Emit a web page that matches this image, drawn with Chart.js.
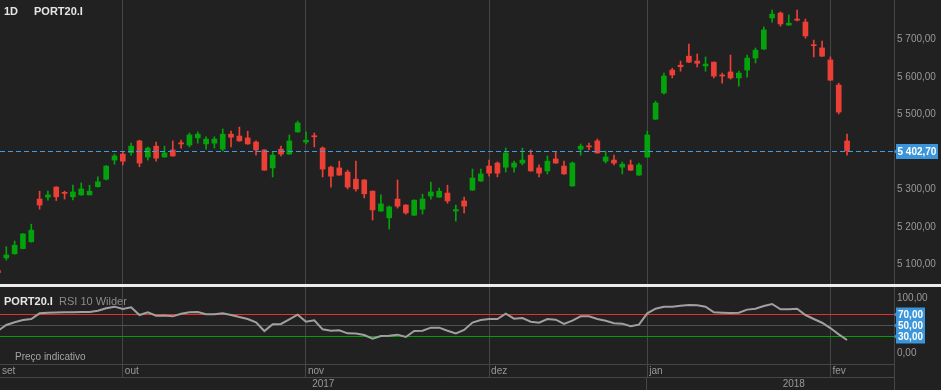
<!DOCTYPE html>
<html>
<head>
<meta charset="utf-8">
<script src="https://cdn.jsdelivr.net/npm/chart.js@4.4.1/dist/chart.umd.min.js"></script>
<style>
  html, body { margin: 0; padding: 0; background: #212121; }
  #wrap { position: relative; width: 941px; height: 390px; overflow: hidden; font-family: "Liberation Sans", Arial, sans-serif; }
  #priceBox { position: absolute; left: 0; top: 0; width: 941px; height: 284px; }
  #rsiBox { position: absolute; left: 0; top: 287px; width: 941px; height: 103px; }
  #sep { position: absolute; left: 0; top: 284px; width: 941px; height: 3px; background: #ececec; }
  .lbl { position: absolute; white-space: nowrap; font-size: 11px; line-height: 13px; z-index: 2; }
  .bold { font-weight: bold; color: #e6e6e6; }
</style>
</head>
<body>
<div id="wrap">
  <div id="priceBox"><canvas id="priceChart"></canvas></div>
  <div id="sep"></div>
  <div id="rsiBox"><canvas id="rsiChart"></canvas></div>
  <div class="lbl bold" style="left:4px; top:5px;">1D</div>
  <div class="lbl bold" style="left:34px; top:5px;">PORT20.I</div>
  <div class="lbl bold" style="left:4px; top:295px;">PORT20.I</div>
  <div class="lbl" style="left:59px; top:295px; color:#8c8c8c;">RSI 10 Wilder</div>
  <div class="lbl" style="left:15px; top:351px; font-size:10px; line-height:12px; color:#a5a5a5;">Preço indicativo</div>
</div>

<script>
// --- DATA (daily candles, 11 Sep 2017 .. 5 Feb 2018) ---
const openP = [5083, 5117, 5128, 5142, 5160, 5274, 5279, 5306, 5292, 5280, 5285, 5285, 5307, 5327, 5378,
  5394, 5398, 5429, 5386, 5415, 5386, 5405, 5424, 5418, 5437, 5421, 5423, 5407, 5447, 5442, 5437, 5426, 5405, 5357, 5407, 5394, 5453,
  5426, 5443, 5410, 5359, 5357, 5346, 5327, 5325, 5295, 5242, 5224, 5274, 5258, 5231, 5247, 5282, 5279, 5290, 5242, 5269, 5298, 5322,
  5362, 5370, 5359, 5359, 5370, 5391, 5357, 5349, 5381, 5362, 5309, 5407, 5416, 5429, 5375, 5378, 5359, 5365, 5338,
  5386, 5487, 5557, 5618, 5631, 5655, 5642, 5629, 5639, 5605, 5613, 5597, 5618, 5650, 5674, 5757, 5770, 5738, 5754, 5746, 5685, 5677,
  5645, 5578, 5429];
const highP = [5085, 5147, 5162, 5182, 5207, 5295, 5295, 5307, 5295, 5311, 5317, 5311, 5333, 5363, 5394,
  5400, 5423, 5431, 5413, 5426, 5415, 5429, 5431, 5450, 5453, 5440, 5440, 5461, 5455, 5466, 5455, 5429, 5406, 5400, 5415, 5445, 5482,
  5453, 5450, 5413, 5362, 5375, 5351, 5375, 5326, 5296, 5285, 5256, 5325, 5259, 5272, 5287, 5319, 5303, 5311, 5258, 5279, 5354, 5354,
  5378, 5373, 5410, 5375, 5410, 5405, 5365, 5389, 5399, 5375, 5373, 5421, 5423, 5434, 5402, 5391, 5373, 5378, 5370,
  5455, 5535, 5610, 5623, 5642, 5687, 5661, 5653, 5640, 5610, 5658, 5615, 5658, 5677, 5733, 5778, 5773, 5765, 5778, 5754, 5698, 5695,
  5653, 5583, 5447];
const lowP = [5076, 5111, 5127, 5141, 5159, 5247, 5271, 5270, 5274, 5272, 5284, 5285, 5306, 5325, 5367,
  5365, 5391, 5360, 5378, 5375, 5386, 5388, 5410, 5413, 5423, 5407, 5410, 5402, 5413, 5428, 5420, 5391, 5351, 5333, 5389, 5393, 5452,
  5421, 5413, 5333, 5306, 5337, 5301, 5295, 5277, 5218, 5241, 5194, 5250, 5234, 5230, 5234, 5274, 5279, 5263, 5215, 5237, 5297, 5321,
  5335, 5333, 5346, 5346, 5365, 5348, 5333, 5341, 5369, 5340, 5308, 5391, 5405, 5396, 5370, 5365, 5341, 5350, 5337,
  5385, 5486, 5554, 5597, 5615, 5638, 5626, 5615, 5597, 5583, 5594, 5575, 5599, 5637, 5673, 5746, 5735, 5737, 5749, 5703, 5653, 5654,
  5590, 5501, 5391];
const closeP = [5078, 5125, 5151, 5181, 5191, 5258, 5285, 5280, 5289, 5293, 5301, 5295, 5320, 5362, 5389,
  5375, 5415, 5370, 5410, 5383, 5397, 5389, 5421, 5445, 5447, 5434, 5434, 5447, 5439, 5429, 5421, 5405, 5351, 5391, 5394, 5429, 5477,
  5431, 5440, 5354, 5335, 5338, 5306, 5301, 5288, 5245, 5261, 5253, 5255, 5237, 5271, 5274, 5293, 5295, 5269, 5246, 5255, 5330, 5341,
  5343, 5343, 5397, 5370, 5378, 5349, 5343, 5375, 5370, 5341, 5370, 5415, 5413, 5397, 5386, 5370, 5367, 5351, 5365,
  5445, 5530, 5602, 5605, 5627, 5639, 5636, 5634, 5602, 5602, 5597, 5610, 5650, 5671, 5725, 5767, 5741, 5743, 5751, 5709, 5683, 5655,
  5591, 5506, 5402.70];
const rsi = [40, 50.5, 55.4, 59.6, 61.5, 71.8, 73, 73.5, 73.6, 73.8, 74.2, 74, 76.6, 81, 83.9,
  79.6, 82.7, 68.7, 73.6, 67.5, 67.7, 66.3, 71, 73.6, 74.2, 70, 70, 71.8, 68.9, 65, 61.5, 55.4, 39.6, 51.8, 52.4, 60.9, 69.3,
  56.6, 59, 42.7, 40.2, 40.8, 35.4, 35, 32.4, 25.6, 30.5, 31, 33, 28.7, 39.6, 40.2, 45.7, 45.7, 40.2, 35.4, 41.5, 55, 59.6,
  61.5, 61.5, 71, 62, 63.3, 56.6, 54.7, 61.5, 60.2, 52.4, 58.4, 66.3, 66.3, 61.5, 58.4, 53.6, 53, 48.2, 51.1,
  71.8, 80.2, 83.9, 83.9, 85.7, 86.9, 86.3, 83.9, 73.6, 73, 72.4, 73, 78.5, 80.2, 85.1, 88.7, 79, 79, 80.2, 68.7, 61.5, 54.7,
  45, 33.6, 23.3];

const monthIdx = [15, 37, 59, 78, 100];
const axisLabels = ['set', 'out', 'nov', 'dez', 'jan', 'fev'];
const yearStartIdx = 78;
const yearLabels = ['2017', '2018'];
const priceTicks = [5100, 5200, 5300, 5400, 5500, 5600, 5700];
const lastPrice = 5402.70;
const rsiLevels = [70, 50, 30];
const rsiTicks = [0, 30, 50, 70, 100];

// --- LOOK ---
const GREEN = '#05a30b';
const RED = '#ec3f36';
const BLUE = '#3a95da';
const GRID = '#464646';
const TXT = '#999999';
const FONT = '"Liberation Sans", Arial, sans-serif';
const X_MIN = 0.243;
const X_MAX = 107.64;

Chart.defaults.font.family = FONT;

const fmt = v => {
    const parts = v.toFixed(2).split('.');
    return parts[0].replace(/\B(?=(\d{3})+(?!\d))/g, ' ') + ',' + parts[1];
};

const candleColors = openP.map((o, i) => closeP[i] >= o ? GREEN : RED);

// dashed last price line + blue price tag
const lastPricePlugin = {
    id: 'lastPrice',
    afterDraw(chart) {
        const { ctx, chartArea, scales: { y } } = chart;
        const py = Math.round(y.getPixelForValue(lastPrice)) + 0.5;
        ctx.save();
        ctx.strokeStyle = '#3d9be0';
        ctx.lineWidth = 1;
        ctx.setLineDash([5, 3]);
        ctx.beginPath();
        ctx.moveTo(chartArea.left, py);
        ctx.lineTo(chartArea.right, py);
        ctx.stroke();
        ctx.setLineDash([]);
        ctx.fillStyle = BLUE;
        ctx.fillRect(chartArea.right + 2, py - 7.5, 42, 15);
        ctx.beginPath();
        ctx.moveTo(chartArea.right, py);
        ctx.lineTo(chartArea.right + 3, py - 3);
        ctx.lineTo(chartArea.right + 3, py + 3);
        ctx.fill();
        ctx.fillStyle = '#ffffff';
        ctx.font = 'bold 10px ' + FONT;
        ctx.textBaseline = 'middle';
        ctx.fillText(fmt(lastPrice), chartArea.right + 3.5, py + 0.5);
        ctx.restore();
    }
};

// RSI level tags + bottom year row
const rsiPlugin = {
    id: 'rsiExtras',
    afterDraw(chart) {
        const { ctx, chartArea, scales: { x, y } } = chart;
        ctx.save();
        ctx.fillStyle = BLUE;
        rsiLevels.forEach(v => {
            const py = Math.round(y.getPixelForValue(v)) + 0.5;
            ctx.fillRect(chartArea.right + 2, py - 7, 29, 14);
            ctx.beginPath();
            ctx.moveTo(chartArea.right, py);
            ctx.lineTo(chartArea.right + 3, py - 3);
            ctx.lineTo(chartArea.right + 3, py + 3);
            ctx.fill();
        });
        ctx.fillStyle = '#ffffff';
        ctx.font = 'bold 10px ' + FONT;
        ctx.textBaseline = 'middle';
        rsiLevels.forEach(v => {
            const py = Math.round(y.getPixelForValue(v)) + 0.5;
            ctx.fillText(fmt(v), chartArea.right + 4, py + 0.5);
        });

        // year row
        const rowY = chartArea.bottom + 13.5;
        const janX = Math.round(x.getPixelForValue(yearStartIdx)) - 0.5;
        ctx.strokeStyle = GRID;
        ctx.lineWidth = 1;
        ctx.beginPath();
        ctx.moveTo(chartArea.left, rowY);
        ctx.lineTo(chartArea.right + 0.5, rowY);
        ctx.moveTo(chartArea.right + 0.5, chartArea.bottom);
        ctx.lineTo(chartArea.right + 0.5, chart.height);
        ctx.moveTo(janX, rowY);
        ctx.lineTo(janX, chart.height);
        ctx.stroke();
        ctx.fillStyle = TXT;
        ctx.font = '10px ' + FONT;
        ctx.textAlign = 'center';
        ctx.textBaseline = 'alphabetic';
        ctx.fillText(yearLabels[0], (chartArea.left + janX) / 2, chartArea.bottom + 23);
        ctx.fillText(yearLabels[1], (janX + chart.width) / 2, chartArea.bottom + 23);
        ctx.restore();
    }
};

// --- PRICE PANEL ---
new Chart(document.getElementById('priceChart'), {
    type: 'bar',
    data: {
        datasets: [
            {
                label: 'wick',
                data: openP.map((o, i) => ({ x: i, y: [lowP[i], highP[i]] })),
                backgroundColor: candleColors,
                barThickness: 1,
                grouped: false,
                order: 2
            },
            {
                label: 'body',
                data: openP.map((o, i) => ({ x: i, y: [o, closeP[i]] })),
                backgroundColor: candleColors,
                barThickness: 5,
                minBarLength: 1,
                grouped: false,
                order: 1
            }
        ]
    },
    options: {
        responsive: true,
        maintainAspectRatio: false,
        animation: false,
        events: [],
        layout: { padding: 0 },
        plugins: { legend: { display: false }, tooltip: { enabled: false } },
        scales: {
            x: {
                type: 'linear',
                min: X_MIN,
                max: X_MAX,
                offset: false,
                grid: { color: GRID, offset: false, drawTicks: false },
                border: { display: false },
                ticks: { display: false },
                afterBuildTicks: s => { s.ticks = monthIdx.map(v => ({ value: v })); },
                afterFit: s => { s.height = 0; s.paddingLeft = 0; s.paddingRight = 0; }
            },
            y: {
                position: 'right',
                min: 5047.5,
                max: 5804.8,
                beginAtZero: false,
                grid: { display: false, drawTicks: false },
                border: { display: true, color: GRID },
                ticks: { color: TXT, font: { size: 10 }, padding: 3, callback: v => fmt(v) },
                afterBuildTicks: s => { s.ticks = priceTicks.map(v => ({ value: v })); },
                afterFit: s => { s.width = 47; s.paddingTop = 0; s.paddingBottom = 0; }
            }
        }
    },
    plugins: [lastPricePlugin]
});

// --- RSI PANEL ---
const levelColor = v => v === 70 ? '#e8302a' : v === 30 ? '#00a000' : v === 50 ? '#505050' : 'rgba(0,0,0,0)';

new Chart(document.getElementById('rsiChart'), {
    type: 'line',
    data: {
        datasets: [{
            label: 'RSI 10 Wilder',
            data: rsi.map((v, i) => ({ x: i, y: v })),
            borderColor: '#a0a0a0',
            borderWidth: 2,
            pointRadius: 0,
            tension: 0
        }]
    },
    options: {
        responsive: true,
        maintainAspectRatio: false,
        animation: false,
        events: [],
        layout: { padding: 0 },
        plugins: { legend: { display: false }, tooltip: { enabled: false } },
        scales: {
            x: {
                type: 'linear',
                min: X_MIN,
                max: X_MAX,
                offset: false,
                grid: { color: c => c.index === 0 ? 'rgba(0,0,0,0)' : GRID, drawTicks: true, tickLength: 13 },
                border: { display: true, color: GRID },
                ticks: {
                    color: TXT, font: { size: 10 }, align: 'start', padding: -12, labelOffset: 2,
                    autoSkip: false, maxRotation: 0, callback: (v, idx) => axisLabels[idx]
                },
                afterBuildTicks: s => { s.ticks = [X_MIN].concat(monthIdx).map(v => ({ value: v })); },
                afterFit: s => { s.height = 26; s.paddingLeft = 0; s.paddingRight = 0; }
            },
            y: {
                position: 'right',
                min: -20.36,
                max: 119.64,
                grid: { color: c => levelColor(c.tick.value), drawTicks: false },
                border: { display: true, color: GRID },
                ticks: {
                    color: c => (c.tick.value === 0 || c.tick.value === 100) ? TXT : 'rgba(0,0,0,0)',
                    font: { size: 10 }, padding: 3, callback: v => fmt(v)
                },
                afterBuildTicks: s => { s.ticks = rsiTicks.map(v => ({ value: v })); },
                afterFit: s => { s.width = 47; s.paddingTop = 0; s.paddingBottom = 0; }
            }
        }
    },
    plugins: [rsiPlugin]
});
</script>
</body>
</html>
